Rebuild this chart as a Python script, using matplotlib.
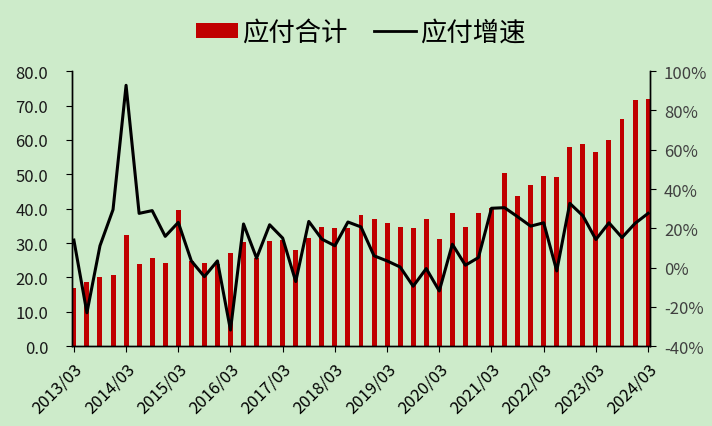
import matplotlib
matplotlib.use('Agg')
import matplotlib.pyplot as plt
from matplotlib.lines import Line2D
from matplotlib.patches import Patch
import numpy as np

plt.rcParams['font.family'] = ['Noto Sans CJK SC', 'DejaVu Sans']
plt.rcParams['axes.unicode_minus'] = False

# quarterly, 2013/03 .. 2024/03
quarters = [f"{y}/{m:02d}" for y in range(2013, 2025) for m in (3, 6, 9, 12)][:45]
payables = [17.0, 18.8, 20.0, 20.7, 32.4, 24.0, 25.5, 24.3, 39.6, 24.8,
            24.3, 24.0, 27.0, 30.2, 25.6, 30.5, 31.0, 28.0, 31.6, 34.8,
            34.5, 34.5, 38.2, 36.9, 35.8, 34.6, 34.3, 36.9, 31.1, 38.8,
            34.6, 38.8, 40.3, 50.4, 43.8, 46.8, 49.6, 49.1, 57.8, 58.7,
            56.4, 60.1, 66.1, 71.7, 72.0]
growth = [14.0, -23.0, 11.1, 29.5, 92.8, 27.6, 29.0, 15.9, 23.0, 3.4,
          -4.6, 3.4, -31.8, 22.2, 4.8, 21.8, 15.0, -7.1, 23.5, 14.5,
          11.1, 23.2, 20.7, 6.0, 3.4, 0.3, -9.5, -0.5, -11.9, 11.9,
          1.2, 5.1, 30.2, 30.5, 25.9, 21.1, 22.8, -1.7, 32.7, 26.4,
          14.3, 22.8, 15.3, 22.5, 27.6]

bg = '#cdebca'
bar_color = '#c00000'

fig = plt.figure(figsize=(7.12, 4.27), dpi=100, facecolor=bg)
ax = fig.add_axes([0.101, 0.187, 0.812, 0.644], facecolor=bg)
ax2 = ax.twinx()

x = np.arange(len(quarters))
ax.bar(x, payables, width=0.38, color=bar_color, zorder=2)
ax2.plot(x, growth, color='black', linewidth=2.2, zorder=3)

ax.set_xlim(-0.15, len(quarters) - 0.85)
ax.set_ylim(0, 80)
ax.set_yticks(np.arange(0, 81, 10))
ax.set_yticklabels([f"{v:.1f}" for v in np.arange(0, 81, 10)])
ax2.set_ylim(-40, 100)
ax2.set_yticks(np.arange(-40, 101, 20))
ax2.set_yticklabels([f"{v}%" for v in range(-40, 101, 20)])

ax.set_xticks(x[::4])
ax.set_xticklabels(quarters[::4], rotation=45, ha='right', rotation_mode='anchor')

for a in (ax, ax2):
    a.spines['top'].set_visible(False)
    for s in ('left', 'right', 'bottom'):
        a.spines[s].set_color('black')
        a.spines[s].set_linewidth(1.0)
ax.tick_params(axis='x', labelsize=12, length=4, direction='out', color='black', pad=6)
ax.tick_params(axis='y', labelsize=12, length=4, direction='out', color='black', pad=13,
               labelcolor='#1a1a1a')
ax2.tick_params(axis='y', labelsize=12, length=4, direction='out', color='black', pad=6,
                labelcolor='#404040')

handles = [Patch(facecolor=bar_color), Line2D([0], [0], color='black', linewidth=2)]
fig.legend(handles, ['应付合计', '应付增速'], loc='upper center', bbox_to_anchor=(0.507, 1.01),
           ncol=2, frameon=False, fontsize=19, handlelength=1.6, handleheight=0.5,
           handletextpad=0.15, columnspacing=1.0)

fig.savefig('out.png', dpi=100, facecolor=bg)
